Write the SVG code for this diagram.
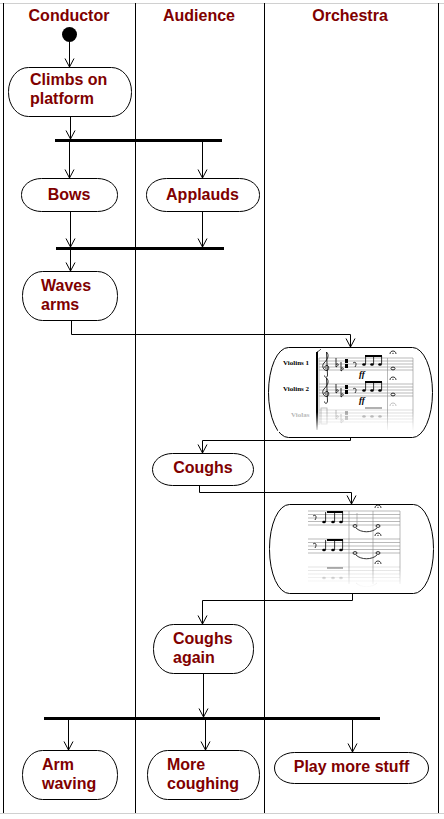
<svg xmlns="http://www.w3.org/2000/svg" width="444" height="819" viewBox="0 0 444 819">
<defs>
<style>
.lane{stroke:#000;stroke-width:1;fill:none}
.frame{stroke:#d0d0d0;stroke-width:1;fill:none}
.node{fill:#fff;stroke:#000;stroke-width:1}
.lbl{font-family:"Liberation Sans",Arial,sans-serif;font-weight:bold;font-size:16px;fill:#800000}
.mid{text-anchor:middle}
.conn{fill:none;stroke:#000;stroke-width:1;marker-end:url(#arr)}
.bar{fill:#000}
.staff{stroke:#8a8a8a;stroke-width:0.6;fill:none}
.ink{stroke:#000;stroke-width:0.8;fill:none}
.head{fill:#000}
.ohead{fill:none;stroke:#000;stroke-width:0.8}
.inst{font-family:"Liberation Serif","Times New Roman",serif;font-weight:bold;font-size:7px;fill:#000}
.dyn{font-family:"Liberation Serif","Times New Roman",serif;font-weight:bold;font-style:italic;font-size:9px;fill:#000}
</style>
<marker id="arr" markerWidth="12" markerHeight="12" viewBox="-10 -6 12 12" refX="0" refY="0" orient="auto" markerUnits="userSpaceOnUse">
<path d="M-8.5,-4.5 L0,0 L-8.5,4.5" fill="none" stroke="#000" stroke-width="1"/>
</marker>
<linearGradient id="fade" x1="0" y1="0" x2="0" y2="1">
<stop offset="0" stop-color="#fff" stop-opacity="0"/>
<stop offset="1" stop-color="#fff" stop-opacity="1"/>
</linearGradient>
<g id="clef"><path class="ink" d="M1.5,-6 L2.5,17 C2.6,20 -0.5,20 -0.5,17.5 M1.5,-6 C4.5,-3 3,1 -1,5 C-4,8 -1,13 2,12.5 C5,11.5 4,6.5 1,7.5 C-1,8.5 0,10.5 1.2,10.5" stroke-width="1"/></g>
<g id="flat"><path class="ink" d="M0,-4 V5 C3,3.5 3,0.5 0,2.5"/></g>
<g id="fermata"><path class="ink" d="M-3,1 C-3,-3 3,-3 3,1" stroke-width="0.7"/><circle cx="0" cy="0.3" r="0.6" fill="#000"/></g>
</defs>

<!-- swimlanes -->
<g id="lanes">
<line class="frame" x1="0" y1="3.5" x2="444" y2="3.5"/>
<line class="frame" x1="0" y1="813.5" x2="444" y2="813.5"/>
<line class="lane" x1="3.5" y1="3" x2="3.5" y2="813"/>
<line class="lane" x1="135.5" y1="3" x2="135.5" y2="813"/>
<line class="lane" x1="264.5" y1="3" x2="264.5" y2="813"/>
<line class="lane" x1="438.5" y1="3" x2="438.5" y2="813"/>
<text class="lbl mid" x="69" y="21">Conductor</text>
<text class="lbl mid" x="199" y="21">Audience</text>
<text class="lbl mid" x="350" y="21">Orchestra</text>
</g>

<!-- connectors -->
<g id="connectors">
<line class="conn" x1="69.5" y1="42" x2="69.5" y2="67"/>
<line class="conn" x1="70.5" y1="116" x2="70.5" y2="139"/>
<line class="conn" x1="69.5" y1="142" x2="69.5" y2="178"/>
<line class="conn" x1="202.5" y1="142" x2="202.5" y2="178"/>
<line class="conn" x1="70.5" y1="211" x2="70.5" y2="247"/>
<line class="conn" x1="202.5" y1="211" x2="202.5" y2="247"/>
<line class="conn" x1="70.5" y1="250" x2="70.5" y2="271"/>
<path class="conn" d="M71.5,320 V334.5 H350.5 V347"/>
<path class="conn" d="M350.5,437 V440.5 H202.5 V453"/>
<path class="conn" d="M199.5,485 V492.5 H351.5 V504"/>
<path class="conn" d="M352.5,593 V600.5 H202.5 V624"/>
<line class="conn" x1="203.5" y1="673" x2="203.5" y2="717"/>
<line class="conn" x1="68.5" y1="720" x2="68.5" y2="750"/>
<line class="conn" x1="205.5" y1="720" x2="205.5" y2="750"/>
<line class="conn" x1="352.5" y1="720" x2="352.5" y2="752"/>
</g>

<!-- start -->
<g id="start"><circle cx="69.5" cy="34.5" r="7.5" fill="#000"/></g>

<g id="climbs">
<rect class="node" x="8.5" y="67.5" width="123" height="49" rx="20" ry="24"/>
<text class="lbl" x="30" y="85">Climbs on</text>
<text class="lbl" x="30" y="104">platform</text>
</g>

<g id="fork1"><rect class="bar" x="55" y="139" width="167" height="3"/></g>

<g id="bows">
<rect class="node" x="21.5" y="178.5" width="96" height="33" rx="20" ry="16"/>
<text class="lbl mid" x="69" y="200">Bows</text>
</g>

<g id="applauds">
<rect class="node" x="146.5" y="178.5" width="113" height="33" rx="20" ry="16"/>
<text class="lbl mid" x="202.5" y="200">Applauds</text>
</g>

<g id="join1"><rect class="bar" x="56" y="247" width="168" height="3"/></g>

<g id="waves">
<rect class="node" x="22.5" y="271.5" width="95" height="49" rx="20" ry="24"/>
<text class="lbl" x="41" y="291">Waves</text>
<text class="lbl" x="41" y="310">arms</text>
</g>

<!-- orchestra score 1 -->
<g id="score1">
<rect class="node" x="268.5" y="347.5" width="164" height="90" rx="20" ry="45"/>
<text class="inst" x="283" y="365">Violins 1</text>
<text class="inst" x="283" y="391">Violins 2</text>
<text class="inst" x="291" y="417" fill="#aaa" style="fill:#aaa">Violas</text>
<rect x="316" y="352" width="2" height="78" fill="#000"/>
<path class="ink" d="M317,352 C319,351 320,350 321,349"/>
<g>
<path class="staff" d="M319,358H413M319,361H413M319,364H413M319,367H413M319,370H413"/>
<path class="staff" d="M319,384H413M319,387H413M319,390H413M319,393H413M319,396H413"/>
<path class="staff" d="M319,410H413M319,413H413M319,416H413M319,419H413M319,422H413" style="stroke:#c8c8c8"/>
<line class="staff" x1="319" y1="358" x2="319" y2="425"/>
<line class="staff" x1="387.5" y1="358" x2="387.5" y2="430"/>
<line class="staff" x1="413" y1="358" x2="413" y2="430"/>
</g>
<g id="s1a">
<use href="#clef" x="325" y="358"/>
<use href="#flat" x="336" y="362"/>
<use href="#flat" x="341" y="366"/>
<rect x="345" y="359" width="3" height="4" fill="#000"/><rect x="345" y="364" width="3" height="4" fill="#000"/>
<path class="ink" d="M353,363 C356,361 357,364 355,367"/>
<ellipse class="head" cx="364" cy="364.5" rx="1.8" ry="1.3"/>
<ellipse class="head" cx="372" cy="364.5" rx="1.8" ry="1.3"/>
<ellipse class="head" cx="380" cy="364.5" rx="1.8" ry="1.3"/>
<path class="ink" d="M365.6,364V356M373.6,364V356M381.6,364V356"/>
<rect x="365" y="355" width="17" height="2" fill="#000"/>
<text class="dyn" x="359" y="377">ff</text>
<use href="#fermata" x="393" y="353"/>
<ellipse class="ohead" cx="393" cy="368.5" rx="2" ry="1.4"/>
</g>
<g id="s2a">
<use href="#clef" x="325" y="384"/>
<use href="#flat" x="336" y="388"/>
<use href="#flat" x="341" y="392"/>
<rect x="345" y="385" width="3" height="4" fill="#000"/><rect x="345" y="390" width="3" height="4" fill="#000"/>
<path class="ink" d="M353,389 C356,387 357,390 355,393"/>
<ellipse class="head" cx="364" cy="390.5" rx="1.8" ry="1.3"/>
<ellipse class="head" cx="372" cy="390.5" rx="1.8" ry="1.3"/>
<ellipse class="head" cx="380" cy="390.5" rx="1.8" ry="1.3"/>
<path class="ink" d="M365.6,390V382M373.6,390V382M381.6,390V382"/>
<rect x="365" y="381" width="17" height="2" fill="#000"/>
<text class="dyn" x="359" y="403">ff</text>
<use href="#fermata" x="393" y="379"/>
<ellipse class="ohead" cx="393" cy="394.5" rx="2" ry="1.4"/>
</g>
<g id="s3a" opacity="0.3">
<rect x="321" y="408" width="6" height="16" fill="none" stroke="#000" stroke-width="0.8"/>
<use href="#flat" x="336" y="414"/>
<use href="#flat" x="341" y="418"/>
<rect x="345" y="411" width="3" height="4" fill="#000"/><rect x="345" y="416" width="3" height="4" fill="#000"/>
<ellipse class="head" cx="364" cy="416.5" rx="1.8" ry="1.3"/>
<ellipse class="head" cx="372" cy="416.5" rx="1.8" ry="1.3"/>
<ellipse class="head" cx="380" cy="416.5" rx="1.8" ry="1.3"/>
<rect x="365" y="407" width="17" height="2" fill="#000"/>
<use href="#fermata" x="393" y="405"/>
</g>
<rect x="278" y="412" width="140" height="20" fill="url(#fade)"/>
</g>

<g id="coughs">
<rect class="node" x="152.5" y="453.5" width="101" height="32" rx="20" ry="16"/>
<text class="lbl mid" x="203" y="473">Coughs</text>
</g>

<!-- orchestra score 2 -->
<g id="score2">
<rect class="node" x="269.5" y="504.5" width="164" height="89" rx="20" ry="44"/>
<g>
<path class="staff" d="M308,511H400M308,514.5H400M308,518H400M308,521.5H400M308,525H400"/>
<path class="staff" d="M308,539H400M308,542.5H400M308,546H400M308,549.5H400M308,553H400"/>
<path class="staff" d="M308,567H400M308,570.5H400M308,574H400M308,577.5H400M308,581H400" style="stroke:#d0d0d0"/>
<line class="staff" x1="349" y1="511" x2="349" y2="584"/>
<line class="staff" x1="373" y1="511" x2="373" y2="584"/>
<line class="staff" x1="400" y1="511" x2="400" y2="584"/>
</g>
<g id="s1b">
<path class="ink" d="M313,516 C316,514 317,517 315,520"/>
<rect x="327" y="511" width="16" height="2" fill="#000"/>
<ellipse class="head" cx="324" cy="522" rx="1.8" ry="1.3"/>
<ellipse class="head" cx="333" cy="522" rx="1.8" ry="1.3"/>
<ellipse class="head" cx="341" cy="522" rx="1.8" ry="1.3"/>
<path class="ink" d="M325.6,522V512M334.6,522V512M342.6,522V512"/>
<line class="staff" x1="357" y1="513" x2="357" y2="525"/>
<ellipse class="ohead" cx="355" cy="526" rx="2" ry="1.4"/>
<ellipse class="ohead" cx="378" cy="526" rx="2" ry="1.4"/>
<path class="ink" d="M356,528 C361,533 372,533 377,528"/>
<use href="#fermata" x="378" y="507"/>
<use href="#fermata" x="378" y="535"/>
</g>
<g id="s2b">
<path class="ink" d="M313,544 C316,542 317,545 315,548"/>
<rect x="327" y="539" width="16" height="2" fill="#000"/>
<ellipse class="head" cx="324" cy="550" rx="1.8" ry="1.3"/>
<ellipse class="head" cx="333" cy="550" rx="1.8" ry="1.3"/>
<ellipse class="head" cx="341" cy="550" rx="1.8" ry="1.3"/>
<path class="ink" d="M325.6,550V540M334.6,550V540M342.6,550V540"/>
<ellipse class="ohead" cx="355" cy="553" rx="2" ry="1.4"/>
<ellipse class="ohead" cx="378" cy="553" rx="2" ry="1.4"/>
<path class="ink" d="M356,555 C361,560 372,560 377,555"/>
<use href="#fermata" x="378" y="563"/>
</g>
<g id="s3b" opacity="0.3">
<rect x="327" y="567" width="16" height="2" fill="#000"/>
<ellipse class="head" cx="324" cy="578" rx="1.8" ry="1.3"/>
<ellipse class="head" cx="333" cy="578" rx="1.8" ry="1.3"/>
<ellipse class="head" cx="341" cy="578" rx="1.8" ry="1.3"/>
<path class="ink" d="M356,583 C361,588 372,588 377,583"/>
</g>
<rect x="300" y="568" width="110" height="20" fill="url(#fade)"/>
</g>

<g id="coughsAgain">
<rect class="node" x="153.5" y="624.5" width="100" height="49" rx="20" ry="24"/>
<text class="lbl" x="173" y="644">Coughs</text>
<text class="lbl" x="173" y="663">again</text>
</g>

<g id="fork2"><rect class="bar" x="44" y="717" width="336" height="3"/></g>

<g id="armWaving">
<rect class="node" x="22.5" y="750.5" width="95" height="49" rx="20" ry="24"/>
<text class="lbl" x="42" y="770">Arm</text>
<text class="lbl" x="42" y="789">waving</text>
</g>

<g id="moreCoughing">
<rect class="node" x="147.5" y="750.5" width="112" height="49" rx="20" ry="24"/>
<text class="lbl" x="167" y="770">More</text>
<text class="lbl" x="167" y="789">coughing</text>
</g>

<g id="playMore">
<rect class="node" x="274.5" y="752.5" width="154" height="31" rx="20" ry="15.5"/>
<text class="lbl mid" x="351.5" y="772">Play more stuff</text>
</g>
</svg>
